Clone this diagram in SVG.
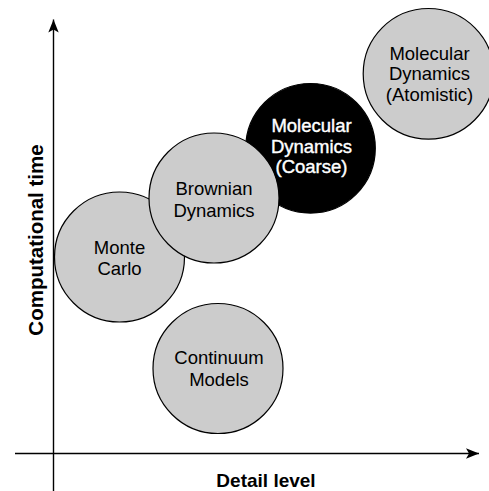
<svg xmlns="http://www.w3.org/2000/svg" width="489" height="491" viewBox="0 0 489 491">
<style>
.node circle{fill:#cccccc;stroke:#000;stroke-width:1.2}
.node text{font-family:"Liberation Sans",Arial,sans-serif;font-size:18.5px;text-anchor:middle;fill:#000}
#md-coarse circle{fill:#000}
#md-coarse text{fill:#fff;stroke:#fff;stroke-width:0.4}
.axis{stroke:#000;stroke-width:1.4;fill:none}
.label{font-family:"Liberation Sans",Arial,sans-serif;font-weight:bold;text-anchor:middle;fill:#000}
</style>
<defs>
<marker id="arr" markerUnits="userSpaceOnUse" markerWidth="14" markerHeight="12" refX="13" refY="6" orient="auto">
<path d="M0,0.8 L13,6 L0,11.2 L3,6 Z" fill="#000"/>
</marker>
</defs>
<rect width="489" height="491" fill="#fff"/>
<g id="connectors">
<line class="axis" x1="53.5" y1="491" x2="53.5" y2="19.5" marker-end="url(#arr)"/>
<line class="axis" x1="15" y1="453.5" x2="479" y2="453.5" marker-end="url(#arr)"/>
</g>
<g id="md-coarse" class="node">
<circle cx="310.5" cy="148.3" r="64.8"/>
<text x="311.5" y="132">Molecular</text>
<text x="311.5" y="152.5">Dynamics</text>
<text x="311.5" y="173">(Coarse)</text>
</g>
<g id="md-atomistic" class="node">
<circle cx="428.5" cy="73.8" r="65.3"/>
<text x="429.5" y="59.5">Molecular</text>
<text x="429.5" y="80">Dynamics</text>
<text x="429.5" y="100.5">(Atomistic)</text>
</g>
<g id="monte-carlo" class="node">
<circle cx="119.5" cy="257" r="65"/>
<text x="119.5" y="253.5">Monte</text>
<text x="119.5" y="275">Carlo</text>
</g>
<g id="brownian" class="node">
<circle cx="214" cy="198" r="65"/>
<text x="214" y="195">Brownian</text>
<text x="214" y="216.5">Dynamics</text>
</g>
<g id="continuum" class="node">
<circle cx="218" cy="368.5" r="65"/>
<text x="219" y="364">Continuum</text>
<text x="219" y="385.5">Models</text>
</g>
<g id="labels">
<text class="label" x="266" y="486.5" font-size="19">Detail level</text>
<text class="label" transform="translate(42.5,240) rotate(-90)" font-size="20.5">Computational time</text>
</g>
</svg>
